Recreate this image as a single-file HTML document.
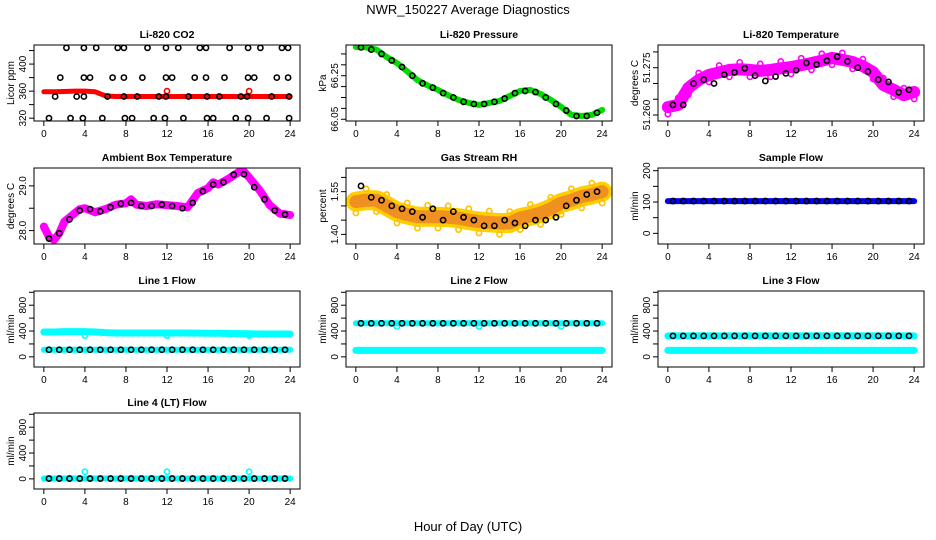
<!DOCTYPE html>
<html><head><meta charset="utf-8"><style>
body{margin:0;background:#fff}
svg{display:block}
text{font-family:"Liberation Sans",sans-serif}
</style></head><body>
<svg id="c" width="936" height="540">
<text x="468" y="14" text-anchor="middle" font-size="13">NWR_150227  Average Diagnostics</text>
<text x="468" y="531" text-anchor="middle" font-size="13">Hour of Day (UTC)</text>
</svg>
<script>
// ---- data ----
const hours = [0,1,2,3,4,5,6,7,8,9,10,11,12,13,14,15,16,17,18,19,20,21,22,23,24];
const halfHours = [0.5,1.5,2.5,3.5,4.5,5.5,6.5,7.5,8.5,9.5,10.5,11.5,12.5,13.5,14.5,15.5,16.5,17.5,18.5,19.5,20.5,21.5,22.5,23.5];
const xTicks = [0,4,8,12,16,20,24];

const co2Red = [359,359,359.5,360,360,359,353,352,352,352,352,352,352,352,352,352,352,352,352,352,352,352,352,352,352];
const co2OutHours = [12,20];
const co2OutVals = [360,360];
const co2H424 = [2.2,3.9,5.1,7.2,7.8,10.1,11.9,13.1,15.2,15.8,18.1,19.9,21.1,23.2,23.8];
const co2H380 = [1.6,3.9,4.5,6.7,7.8,9.6,11.9,12.5,14.7,15.8,17.6,19.9,20.5,22.7,23.8];
const co2H352 = [1.1,3.2,3.9,6.2,7.8,9.1,11.2,11.9,14.1,15.9,17.1,19.2,19.8,22.2,23.9];
const co2H320 = [0.5,2.6,3.8,5.7,7.9,8.6,10.7,11.8,13.6,15.9,16.5,18.7,19.9,21.7,23.9];
const co2Levels = [424,380,352,320];

const pressGreen = [66.382,66.38,66.37,66.336,66.308,66.27,66.23,66.205,66.185,66.16,66.139,66.125,66.116,66.125,66.134,66.157,66.18,66.185,66.166,66.139,66.107,66.07,66.065,66.07,66.093];
const pressBlack = [66.38,66.37,66.35,66.32,66.29,66.25,66.215,66.195,66.17,66.15,66.13,66.12,66.12,66.13,66.145,66.17,66.18,66.175,66.15,66.12,66.09,66.065,66.065,66.08];

const liTempMag = [51.2625,51.2632,51.2686,51.2711,51.2727,51.2735,51.2743,51.2745,51.2743,51.2740,51.2743,51.2748,51.2752,51.2758,51.2765,51.2772,51.2781,51.2775,51.2768,51.2755,51.2736,51.2695,51.2680,51.2663,51.2673];
const liTempBlack = [51.2632,51.2632,51.2700,51.2712,51.2700,51.2728,51.2735,51.2748,51.2725,51.2708,51.2722,51.2732,51.2742,51.2765,51.2760,51.2772,51.2785,51.2770,51.2750,51.2738,51.2712,51.2705,51.2672,51.2680];

const ambHours = [0,0.5,1,1.5,2,3,3.5,4,5,6,7,8,8.5,9,10,11,12,13,14,15,16,16.5,17,18,19,19.5,20,21,22,23,24];
const ambMag = [28.09,27.86,27.79,27.94,28.20,28.39,28.48,28.50,28.41,28.48,28.58,28.61,28.70,28.58,28.55,28.59,28.57,28.55,28.52,28.84,28.95,29.08,29.03,29.16,29.31,29.32,29.19,28.91,28.57,28.38,28.35];
const ambBlack = [27.82,27.94,28.25,28.45,28.48,28.43,28.52,28.60,28.62,28.55,28.55,28.58,28.55,28.50,28.62,28.88,29.03,29.08,29.25,29.26,28.97,28.70,28.45,28.36];

const rhOrange = [1.515,1.52,1.52,1.50,1.48,1.47,1.462,1.462,1.462,1.46,1.457,1.45,1.445,1.442,1.44,1.44,1.457,1.465,1.475,1.49,1.51,1.52,1.533,1.54,1.55];
const rhBlack = [1.57,1.53,1.52,1.50,1.49,1.48,1.46,1.49,1.45,1.48,1.46,1.45,1.43,1.43,1.45,1.44,1.43,1.45,1.45,1.46,1.50,1.52,1.54,1.55];

const sampleBlue = [103,103,103,103,103,103,103,103,103,103,103,103,103,103,103,103,103,103,103,103,103,103,103,103,103];
const sampleBlack = [103,103,103,103,103,103,103,103,103,103,103,103,103,103,103,103,103,103,103,103,103,103,103,103];

const l1CyanHi = [385,385,390,390,390,385,375,370,370,370,370,370,370,370,370,368,365,365,362,360,358,355,355,355,355];
const l1CyanLo = [110,110,110,110,110,110,110,110,110,110,110,110,110,110,110,110,110,110,110,110,110,110,110,110,110];
const l1Black = [110,110,110,110,110,110,110,110,110,110,110,110,110,110,110,110,110,110,110,110,110,110,110,110];
const l2CyanHi = [520,520,520,520,520,520,520,520,520,520,520,520,520,520,520,520,520,520,520,520,520,520,520,520,520];
const l2CyanLo = [100,100,100,100,100,100,100,100,100,100,100,100,100,100,100,100,100,100,100,100,100,100,100,100,100];
const l2Black = [520,520,520,520,520,520,520,520,520,520,520,520,520,520,520,520,520,520,520,520,520,520,520,520];
const l3CyanHi = [325,325,325,325,325,325,325,325,325,325,325,325,325,325,325,325,325,325,325,325,325,325,325,325,325];
const l3CyanLo = [100,100,100,100,100,100,100,100,100,100,100,100,100,100,100,100,100,100,100,100,100,100,100,100,100];
const l3Black = [325,325,325,325,325,325,325,325,325,325,325,325,325,325,325,325,325,325,325,325,325,325,325,325];
const l4Cyan = [5,5,5,5,5,5,5,5,5,5,5,5,5,5,5,5,5,5,5,5,5,5,5,5,5];
const l4Black = [5,5,5,5,5,5,5,5,5,5,5,5,5,5,5,5,5,5,5,5,5,5,5,5];
const outHours = [4,12,20];
const l1Out = [330,330,330];
const l2Out = [470,470,470];
const l4Out = [110,110,110];

// ---- drawing ----
const svg = document.getElementById('c');
const NS = 'http://www.w3.org/2000/svg';
function mk(tag, attrs, parent){const e=document.createElementNS(NS,tag);for(const k in attrs)e.setAttribute(k,attrs[k]);(parent||svg).appendChild(e);return e;}
const defs = mk('defs',{});
let clipN = 0;

function panel(col,row,title,ylab,ymin,ymax,yticks,ylabels,dec,name){
  const x0=[34,346,658][col], y0=[45,168,291,413][row], w=266, h=76;
  const g=mk('g',{});
  
  
  const xs=v=>x0+(v+0.96)/25.92*w;
  const ys=v=>y0+h-(v-ymin)/(ymax-ymin)*h;
  const t=mk('text',{x:x0+w/2,y:y0-7,'text-anchor':'middle','font-size':10.5,'font-weight':'bold'},g);t.textContent=title;
  
  
  const yl=mk('text',{x:0,y:0,transform:`translate(${x0-20},${y0+h/2}) rotate(-90)`,'text-anchor':'middle','font-size':10},g);yl.textContent=ylab;
  
  
  xTicks.forEach(v=>{
    mk('line',{x1:xs(v),x2:xs(v),y1:y0+h,y2:y0+h+5,stroke:'#000'},g);
    const tt=mk('text',{x:xs(v),y:y0+h+16,'text-anchor':'middle','font-size':10},g);tt.textContent=v;
    
    
  });
  yticks.forEach(v=>{
    mk('line',{x1:x0-5,x2:x0,y1:ys(v),y2:ys(v),stroke:'#000'},g);
  });
  ylabels.forEach(v=>{
    const tt=mk('text',{x:0,y:0,transform:`translate(${x0-8},${ys(v)}) rotate(-90)`,'text-anchor':'middle','font-size':10},g);tt.textContent=v.toFixed(dec);
    
    
  });
  const id='cp'+(clipN++);
  const cp=mk('clipPath',{id:id},defs);
  mk('rect',{x:x0,y:y0,width:w,height:h},cp);
  const clip=mk('g',{'clip-path':`url(#${id})`},g);
  mk('rect',{x:x0,y:y0,width:w,height:h,fill:'none',stroke:'#000'},g);
  return {g:clip,xs,ys};
}
function band(p,xsArr,vals,color,width,name){
  const pts=xsArr.map((x,i)=>p.xs(x)+','+p.ys(vals[i])).join(' ');
  const l=mk('polyline',{points:pts,fill:'none',stroke:color,'stroke-width':width,'stroke-linecap':'round','stroke-linejoin':'round'},p.g);
  
  
}
function circles(p,xsArr,vals,color,name,r){
  xsArr.forEach((x,i)=>{
    const c=mk('circle',{cx:p.xs(x),cy:p.ys(vals[i]),r:r||2.6,fill:'none',stroke:color,'stroke-width':1.6},p.g);
    
    
  });
}

// P1 CO2
let p=panel(0,0,'Li-820 CO2','Licor ppm',315.8,428.2,[320,340,360,380,400,420],[320,360,400],0,'co2');
band(p,hours,co2Red,'#ff0000',5,'co2-red-series');
circles(p,co2OutHours,co2OutVals,'#ff0000','co2-red-outlier');
[co2H424,co2H380,co2H352,co2H320].forEach((hs,k)=>circles(p,hs,hs.map(()=>co2Levels[k]),'#000','co2-black-point'));

// P2 pressure
p=panel(1,0,'Li-820 Pressure','kPa',66.042,66.391,[66.05,66.10,66.15,66.20,66.25,66.30,66.35],[66.05,66.25],2,'pressure');
band(p,hours,pressGreen,'#00dd00',6,'pressure-green-series');
circles(p,halfHours,pressBlack,'#000','pressure-black-point');

// P3 Li temp
p=panel(2,0,'Li-820 Temperature','degrees C',51.2581,51.2822,[51.260,51.265,51.270,51.275,51.280],[51.260,51.275],3,'li-temp');
band(p,hours,liTempMag,'#ff00ff',12,'li-temp-magenta-series');
circles(p,hours,liTempMag.map((v,i)=>v+(i%2?0.0022:-0.0022)),'#ff00ff','li-temp-magenta-point');
circles(p,halfHours,liTempBlack,'#000','li-temp-black-point');

// P4 ambient
p=panel(0,1,'Ambient Box Temperature','degrees C',27.70,29.40,[28.0,28.5,29.0],[28.0,29.0],1,'ambient');
band(p,ambHours,ambMag,'#ff00ff',8,'ambient-magenta-series');
circles(p,halfHours,ambBlack,'#000','ambient-black-point');

// P5 RH
p=panel(1,1,'Gas Stream RH','percent',1.3663,1.633,[1.40,1.45,1.50,1.55,1.60],[1.40,1.55],2,'rh');
band(p,hours,rhOrange,'#ffd000',20,'rh-yellow-band');
band(p,hours,rhOrange,'#f09020',13,'rh-orange-series');
circles(p,hours,rhOrange.map((v,i)=>v+(i%2?0.04:-0.04)),'#ffc000','rh-yellow-point');
circles(p,halfHours,rhBlack,'#000','rh-black-point');

// P6 sample flow
p=panel(2,1,'Sample Flow','ml/min',-34,208.6,[0,50,100,150,200],[0,100,200],0,'sample-flow');
band(p,hours,sampleBlue,'#0000ff',6,'sample-blue-series');
circles(p,halfHours,sampleBlack,'#000','sample-black-point');

// Line flows
const fmin=-157,fmax=1020,ft=[0,200,400,600,800,1000],fl=[0,400,800];
p=panel(0,2,'Line 1 Flow','ml/min',fmin,fmax,ft,fl,0,'line1');
band(p,hours,l1CyanHi,'#00ffff',7,'line1-cyan-upper');
band(p,hours,l1CyanLo,'#00ffff',6,'line1-cyan-lower');
circles(p,outHours,l1Out,'#00ffff','line1-outlier');
circles(p,halfHours,l1Black,'#000','line1-black-point');

p=panel(1,2,'Line 2 Flow','ml/min',fmin,fmax,ft,fl,0,'line2');
band(p,hours,l2CyanHi,'#00ffff',6,'line2-cyan-upper');
band(p,hours,l2CyanLo,'#00ffff',7,'line2-cyan-lower');
circles(p,outHours,l2Out,'#00ffff','line2-outlier');
circles(p,halfHours,l2Black,'#000','line2-black-point');

p=panel(2,2,'Line 3 Flow','ml/min',fmin,fmax,ft,fl,0,'line3');
band(p,hours,l3CyanHi,'#00ffff',7,'line3-cyan-upper');
band(p,hours,l3CyanLo,'#00ffff',7,'line3-cyan-lower');
circles(p,halfHours,l3Black,'#000','line3-black-point');

p=panel(0,3,'Line 4 (LT) Flow','ml/min',fmin,fmax,ft,fl,0,'line4');
band(p,hours,l4Cyan,'#00ffff',6,'line4-cyan-series');
circles(p,outHours,l4Out,'#00ffff','line4-outlier');
circles(p,halfHours,l4Black,'#000','line4-black-point');
</script>
</body></html>
